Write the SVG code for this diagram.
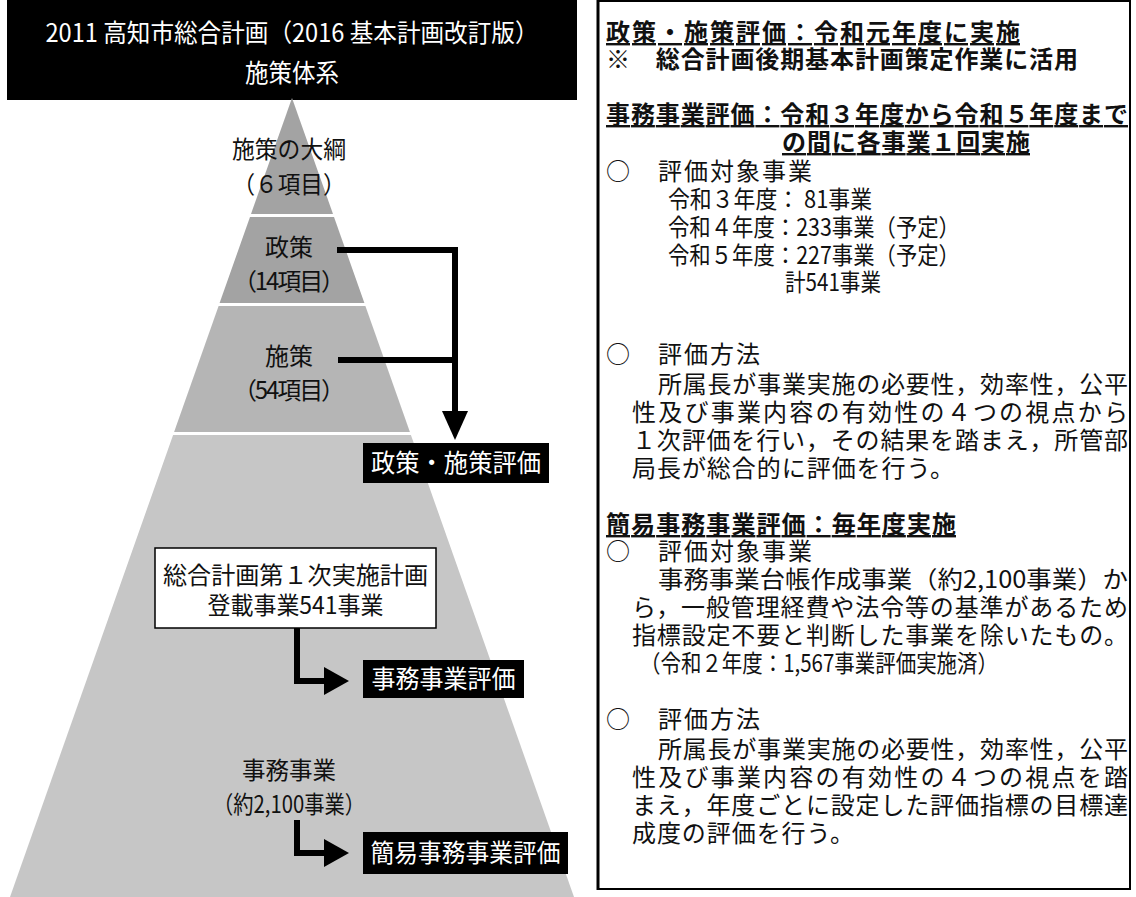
<svg xmlns="http://www.w3.org/2000/svg" width="1136" height="897" viewBox="0 0 1136 897">
<style>
.t{font-family:"Noto Sans CJK JP","Noto Sans",sans-serif;fill:#111;}
.w{font-family:"Noto Sans CJK JP","Noto Sans",sans-serif;fill:#fff;}
.p{font-family:"Noto Sans CJK JP","Noto Sans",sans-serif;fill:#111;font-size:24px;}
.b{font-weight:bold;text-decoration:underline;}
.bb{font-weight:bold;}
.lbl{fill:#000;}
</style>
<rect width="1136" height="897" fill="#fff"/>
<g id="title">
<rect x="7" y="0" width="570" height="100" fill="#000"/>
<text class="w" x="292" y="42" font-size="25" text-anchor="middle" textLength="493" lengthAdjust="spacingAndGlyphs">2011 高知市総合計画（2016 基本計画改訂版）</text>
<text class="w" x="292" y="82" font-size="25" text-anchor="middle" textLength="94" lengthAdjust="spacingAndGlyphs">施策体系</text>
</g>
<g id="pyramid">
<polygon points="292,98 333,214 251,214" fill="#a3a3a3"/>
<polygon points="250,217 334,217 364.4,303 219.6,303" fill="#a3a3a3"/>
<polygon points="218.6,306 365.4,306 409.9,432 174.1,432" fill="#b5b5b5"/>
<polygon points="173.1,435 410.9,435 574,897 10,897" fill="#c6c6c6"/>
</g>
<g id="node-taiko"><text class="t" x="289" y="158" font-size="24" text-anchor="middle" textLength="114" lengthAdjust="spacingAndGlyphs">施策の大綱</text><text class="t" x="289" y="193" font-size="24" text-anchor="middle" textLength="113" lengthAdjust="spacingAndGlyphs">（６項目）</text></g>
<g id="node-seisaku"><text class="t" x="289" y="256" font-size="24" text-anchor="middle">政策</text><text class="t" x="289" y="290" font-size="24" text-anchor="middle" textLength="112" lengthAdjust="spacing">（14項目）</text></g>
<g id="node-shisaku"><text class="t" x="289" y="365" font-size="24" text-anchor="middle">施策</text><text class="t" x="289" y="399" font-size="24" text-anchor="middle" textLength="112" lengthAdjust="spacing">（54項目）</text></g>
<g id="node-keikaku">
<rect x="155" y="548" width="281" height="80" fill="#fff" stroke="#000" stroke-width="1.5"/>
<text class="t" x="295.5" y="584" font-size="24" text-anchor="middle" textLength="265" lengthAdjust="spacingAndGlyphs">総合計画第１次実施計画</text>
<text class="t" x="295.5" y="614" font-size="24" text-anchor="middle" textLength="176" lengthAdjust="spacingAndGlyphs">登載事業541事業</text>
</g>
<g id="node-jimu"><text class="t" x="289" y="779" font-size="24" text-anchor="middle" textLength="94" lengthAdjust="spacingAndGlyphs">事務事業</text><text class="t" x="289" y="813" font-size="24" text-anchor="middle" textLength="152" lengthAdjust="spacingAndGlyphs">（約2,100事業）</text></g>
<g id="label-seisaku-hyoka"><rect x="363" y="443" width="186" height="40" class="lbl"/><text class="w" x="456" y="472" font-size="25" text-anchor="middle" textLength="170" lengthAdjust="spacingAndGlyphs">政策・施策評価</text></g>
<g id="label-jimu-hyoka"><rect x="363" y="660" width="161" height="38" class="lbl"/><text class="w" x="443.5" y="688" font-size="25" text-anchor="middle" textLength="144" lengthAdjust="spacingAndGlyphs">事務事業評価</text></g>
<g id="label-kani-hyoka"><rect x="363" y="832" width="205" height="42" class="lbl"/><text class="w" x="465.5" y="862" font-size="25" text-anchor="middle" textLength="190" lengthAdjust="spacingAndGlyphs">簡易事務事業評価</text></g>
<g id="connectors" fill="none" stroke="#000" stroke-width="6">
<polyline points="337,250 455,250 455,416"/>
<line x1="338" y1="360" x2="455" y2="360"/>
<polygon points="442,411 468,411 455,440" fill="#000" stroke="none"/>
<polyline points="297,628 297,681 328,681"/>
<polygon points="324,667 349,681 324,695" fill="#000" stroke="none"/>
<polyline points="297,820 297,853 328,853"/>
<polygon points="324,839 349,853 324,867" fill="#000" stroke="none"/>
</g>
<g id="panel">
<rect x="598" y="1" width="532" height="888" fill="#fff" stroke="#000" stroke-width="2"/>
<line x1="598" y1="0" x2="598" y2="890" stroke="#000" stroke-width="3"/>
<text class="p b" x="606" y="41" textLength="414" lengthAdjust="spacing">政策・施策評価：令和元年度に実施</text>
<text class="p bb" x="606" y="68" textLength="472" lengthAdjust="spacing">※　総合計画後期基本計画策定作業に活用</text>
<text class="p b" x="606" y="123" textLength="522" lengthAdjust="spacing">事務事業評価：令和３年度から令和５年度まで</text>
<text class="p b" x="782" y="151" textLength="248" lengthAdjust="spacing">の間に各事業１回実施</text>
<text class="p" x="606" y="180" textLength="206" lengthAdjust="spacing">○　評価対象事業</text>
<text class="p" x="668" y="208" textLength="204" lengthAdjust="spacingAndGlyphs">令和３年度： 81事業</text>
<text class="p" x="668" y="236" textLength="292" lengthAdjust="spacingAndGlyphs">令和４年度：233事業（予定）</text>
<text class="p" x="668" y="264" textLength="292" lengthAdjust="spacingAndGlyphs">令和５年度：227事業（予定）</text>
<text class="p" x="785" y="291" textLength="96" lengthAdjust="spacingAndGlyphs">計541事業</text>
<text class="p" x="606" y="363" textLength="154" lengthAdjust="spacing">○　評価方法</text>
<text class="p" x="658" y="393" textLength="470" lengthAdjust="spacing">所属長が事業実施の必要性，効率性，公平</text>
<text class="p" x="632" y="421" textLength="496" lengthAdjust="spacing">性及び事業内容の有効性の４つの視点から</text>
<text class="p" x="632" y="449" textLength="496" lengthAdjust="spacing">１次評価を行い，その結果を踏まえ，所管部</text>
<text class="p" x="632" y="477" textLength="322" lengthAdjust="spacing">局長が総合的に評価を行う。</text>
<text class="p b" x="606" y="533" textLength="350" lengthAdjust="spacing">簡易事務事業評価：毎年度実施</text>
<text class="p" x="606" y="560" textLength="206" lengthAdjust="spacing">○　評価対象事業</text>
<text class="p" x="658" y="588" textLength="470" lengthAdjust="spacingAndGlyphs">事務事業台帳作成事業（約2,100事業）か</text>
<text class="p" x="632" y="616" textLength="496" lengthAdjust="spacing">ら，一般管理経費や法令等の基準があるため</text>
<text class="p" x="632" y="644" textLength="496" lengthAdjust="spacing">指標設定不要と判断した事業を除いたもの。</text>
<text class="p" x="640" y="672" textLength="358" lengthAdjust="spacingAndGlyphs">（令和２年度：1,567事業評価実施済）</text>
<text class="p" x="606" y="728" textLength="154" lengthAdjust="spacing">○　評価方法</text>
<text class="p" x="658" y="758" textLength="470" lengthAdjust="spacing">所属長が事業実施の必要性，効率性，公平</text>
<text class="p" x="632" y="786" textLength="496" lengthAdjust="spacing">性及び事業内容の有効性の４つの視点を踏</text>
<text class="p" x="632" y="814" textLength="496" lengthAdjust="spacing">まえ，年度ごとに設定した評価指標の目標達</text>
<text class="p" x="632" y="842" textLength="222" lengthAdjust="spacing">成度の評価を行う。</text>
</g>
</svg>
